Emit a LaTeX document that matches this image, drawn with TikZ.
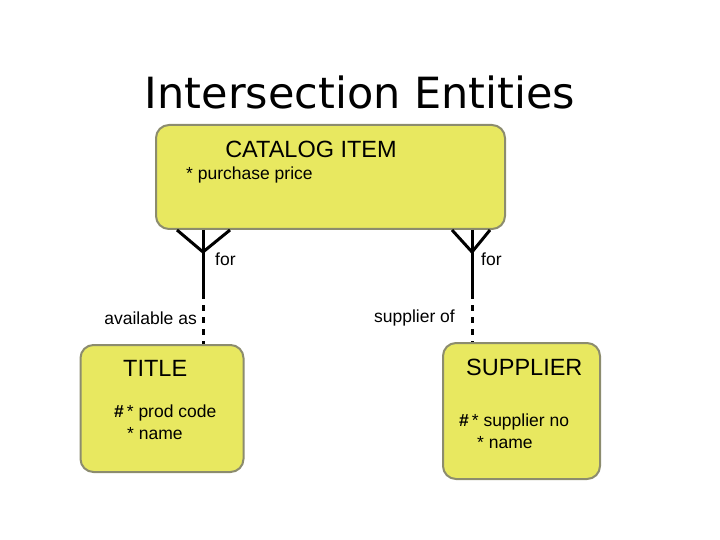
\documentclass[tikz,border=0pt]{standalone}
\usepackage{fontspec}
\setmainfont{Liberation Sans}
\newfontfamily\titlefont{DejaVu Sans}
\usetikzlibrary{calc}
\definecolor{entfill}{RGB}{232,232,96}
\definecolor{entdraw}{RGB}{140,140,110}
\tikzset{
  entity/.style={draw=entdraw, line width=2pt, fill=entfill, rounded corners=13pt, inner sep=0pt},
  rel/.style={line width=3pt, black},
  reldash/.style={line width=3pt, black, dash pattern=on 6pt off 6pt},
  big/.style={font=\fontsize{23.5}{26}\selectfont, inner sep=0pt},
  small/.style={font=\fontsize{17.5}{21}\selectfont, inner sep=0pt},
}
\begin{document}
\begin{tikzpicture}[x=1pt,y=-1pt]
\useasboundingbox (0,0) rectangle (720,540);
% title
\node[inner sep=0pt, font=\titlefont\fontsize{43}{48}\selectfont] (head) at (360,92) {Intersection Entities};
% entity boxes
\node[entity, minimum width=349pt, minimum height=104pt] (cat) at (330.5,177) {};
\node[entity, minimum width=163pt, minimum height=127pt] (title) at (162,408.5) {};
\node[entity, minimum width=157pt, minimum height=136pt] (supp) at (521.5,411) {};
% entity texts
\node[big] (catname) at (311,149) {CATALOG ITEM};
\node[small, anchor=west] (catattr) at (186,175) {* purchase price};
\node[big, anchor=west] (titlename) at (123,368) {TITLE};
\node[small, anchor=west] (titleattr1) at (114,413) {\textbf{\#}\,* prod code};
\node[small, anchor=west] (titleattr2) at (127,434) {* name};
\node[big, anchor=west] (suppname) at (466,367) {SUPPLIER};
\node[small, anchor=west] (suppattr1) at (459,422) {\textbf{\#}\,* supplier no};
\node[small, anchor=west] (suppattr2) at (477,443) {* name};
% relationship coordinates
\coordinate (lfoot) at (203,252);
\coordinate (lmid) at (203,293);
\coordinate (rfoot) at (472,252);
\coordinate (rmid) at (472,293);
% left relationship
\draw[rel] (lfoot |- cat.south) -- (lmid);
\draw[rel] ($(lfoot |- cat.south)+(-26,0)$) -- (lfoot) -- ($(lfoot |- cat.south)+(27,0)$);
\draw[reldash] (lmid) -- (lmid |- title.north);
% right relationship
\draw[rel] (rfoot |- cat.south) -- (rmid);
\draw[rel] ($(rfoot |- cat.south)+(-20,0)$) -- (rfoot) -- ($(rfoot |- cat.south)+(18,0)$);
\draw[reldash] (rmid) -- (rmid |- supp.north);
% labels
\node[small, anchor=west] (lfor) at (215,259) {for};
\node[small, anchor=west] (rfor) at (481,259) {for};
\node[small, anchor=east] (avail) at (197,318) {available as};
\node[small, anchor=east] (suppof) at (455,318) {supplier of};
\end{tikzpicture}
\end{document}
